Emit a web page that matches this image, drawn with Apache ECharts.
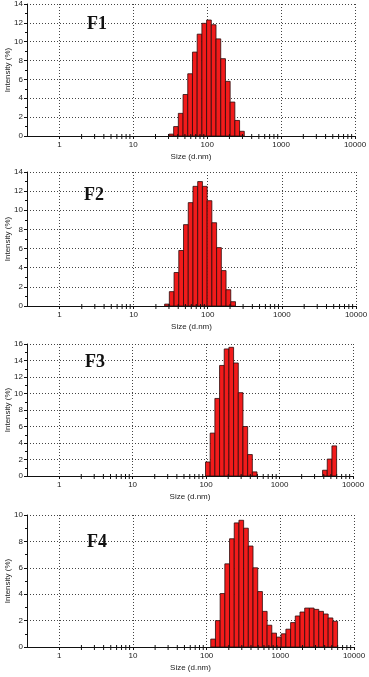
<!DOCTYPE html>
<html>
<head>
<meta charset="utf-8">
<script src="https://cdn.jsdelivr.net/npm/echarts@6/dist/echarts.min.js"></script>
<style>
html,body{margin:0;padding:0;background:#fff;}
#chart{width:369px;height:677px;}
</style>
</head>
<body>
<div id="chart"></div>
<script>
// size classes (d.nm) and intensity (%)
var sizesF1 = [32.67, 37.84, 43.82, 50.75, 58.77, 68.06, 78.82, 91.28, 105.7, 122.4, 141.8, 164.2, 190.1, 220.2, 255.0, 295.3];
var intensityF1 = [0.2, 1.0, 2.4, 4.4, 6.6, 8.9, 10.8, 11.95, 12.3, 11.8, 10.3, 8.2, 5.8, 3.6, 1.65, 0.5];
var sizesF2 = [28.21, 32.67, 37.84, 43.82, 50.75, 58.77, 68.06, 78.82, 91.28, 105.7, 122.4, 141.8, 164.2, 190.1, 220.2];
var intensityF2 = [0.2, 1.5, 3.5, 5.8, 8.5, 10.8, 12.5, 13.0, 12.5, 11.0, 8.7, 6.1, 3.7, 1.7, 0.45];
var sizesF3 = [105.7, 122.4, 141.8, 164.2, 190.1, 220.2, 255.0, 295.3, 342.0, 396.1, 458.7, 4145, 4801, 5560];
var intensityF3 = [1.7, 5.2, 9.4, 13.4, 15.4, 15.6, 13.7, 10.1, 6.0, 2.6, 0.5, 0.7, 2.05, 3.65];
var sizesF4 = [122.4, 141.8, 164.2, 190.1, 220.2, 255.0, 295.3, 342.0, 396.1, 458.7, 531.2, 615.1, 712.4, 825.0, 955.4,
  1106, 1281, 1484, 1718, 1990, 2305, 2669, 3091, 3580, 4145, 4801, 5560];
var intensityF4 = [0.6, 2.0, 4.05, 6.3, 8.2, 9.4, 9.6, 9.0, 7.65, 6.0, 4.2, 2.7, 1.65, 1.05, 0.75,
  1.0, 1.35, 1.85, 2.35, 2.65, 2.95, 2.95, 2.85, 2.7, 2.5, 2.2, 1.95];

var panelNames = ['F1', 'F2', 'F3', 'F4'];
var yMaxes = [14, 14, 16, 10];
var decades = [1, 10, 100, 1000];
var minorSteps = [2, 3, 4, 5, 6, 7, 8, 9];

var panels = [
  {sizes: sizesF1, values: intensityF1},
  {sizes: sizesF2, values: intensityF2},
  {sizes: sizesF3, values: intensityF3},
  {sizes: sizesF4, values: intensityF4}
];
var layout = [
  {left: 27, top: 4, width: 328, height: 132, tl: 87, tt: 15},
  {left: 27, top: 172, width: 329, height: 134, tl: 84, tt: 186},
  {left: 27, top: 344, width: 326, height: 132, tl: 85, tt: 353},
  {left: 27, top: 515, width: 327, height: 132, tl: 87, tt: 533}
];

var binRatio = 1.1581;
var half = Math.sqrt(binRatio);
var font = 'Liberation Sans, Arial, sans-serif';

var minorTicks = [];
decades.forEach(function (d) {
  minorSteps.forEach(function (s) { minorTicks.push([d * s, 0]); });
});

function renderBar(params, api) {
  var size = api.value(0), val = api.value(1);
  var p0 = api.coord([size / half, 0]);
  var p1 = api.coord([size * half, val]);
  return {
    type: 'rect',
    shape: {x: p0[0], y: p1[1], width: p1[0] - p0[0], height: p0[1] - p1[1]},
    style: {fill: '#f21b1b', stroke: '#2b0b0b', lineWidth: 0.8}
  };
}

function renderTick(params, api) {
  var p = api.coord([api.value(0), 0]);
  return {
    type: 'line',
    shape: {x1: p[0], y1: p[1] - 2, x2: p[0], y2: p[1] + 3},
    style: {stroke: '#111', lineWidth: 1}
  };
}

var grids = [], xAxes = [], yAxes = [], series = [], titles = [];
panels.forEach(function (pn, i) {
  var L = layout[i];
  grids.push({left: L.left, top: L.top, width: L.width, height: L.height,
    containLabel: false, outerBoundsMode: 'none'});
  titles.push({
    text: panelNames[i], left: L.tl, top: L.tt, padding: 0,
    textStyle: {fontFamily: 'Liberation Serif, Times New Roman, serif', fontWeight: 'bold', fontSize: 18, color: '#111'}
  });
  xAxes.push({
    type: 'log', gridIndex: i, min: 0.365, max: 10000, logBase: 10,
    name: 'Size (d.nm)', nameLocation: 'middle', nameGap: 17, nameMoveOverlap: false,
    nameTextStyle: {fontFamily: font, fontSize: 8, color: '#222'},
    axisLine: {lineStyle: {color: '#111', width: 1}},
    axisTick: {show: true, length: 3, lineStyle: {color: '#111'}},
    minorTick: {show: false},
    axisLabel: {fontFamily: font, fontSize: 8, color: '#222', margin: 5, showMinLabel: false,
      formatter: function (v) { return String(Math.round(v)); }},
    splitLine: {show: true, lineStyle: {type: [1, 2], color: '#444', width: 1}}
  });
  yAxes.push({
    type: 'value', gridIndex: i, min: 0, max: yMaxes[i], interval: 2,
    name: 'Intensity (%)', nameLocation: 'middle', nameGap: 15, nameRotate: 90, nameMoveOverlap: false,
    nameTextStyle: {fontFamily: font, fontSize: 8, color: '#222'},
    axisLine: {show: true, lineStyle: {color: '#111', width: 1}},
    axisTick: {show: true, length: 3, lineStyle: {color: '#111'}},
    minorTick: {show: true, splitNumber: 2, length: 2, lineStyle: {color: '#111'}},
    axisLabel: {fontFamily: font, fontSize: 8, color: '#222', margin: 4},
    splitLine: {show: true, lineStyle: {type: [1, 2], color: '#444', width: 1}}
  });
  series.push({
    type: 'custom', xAxisIndex: i, yAxisIndex: i, renderItem: renderBar, clip: true,
    data: pn.sizes.map(function (s, k) { return [s, pn.values[k]]; })
  });
  series.push({
    type: 'custom', xAxisIndex: i, yAxisIndex: i, renderItem: renderTick, silent: true,
    data: minorTicks
  });
});

var chart = echarts.init(document.getElementById('chart'), null, {renderer: 'canvas'});
chart.setOption({
  animation: false,
  backgroundColor: '#fff',
  title: titles,
  grid: grids,
  xAxis: xAxes,
  yAxis: yAxes,
  series: series
});
window.addEventListener('resize', function () { chart.resize(); });
</script>
</body>
</html>
